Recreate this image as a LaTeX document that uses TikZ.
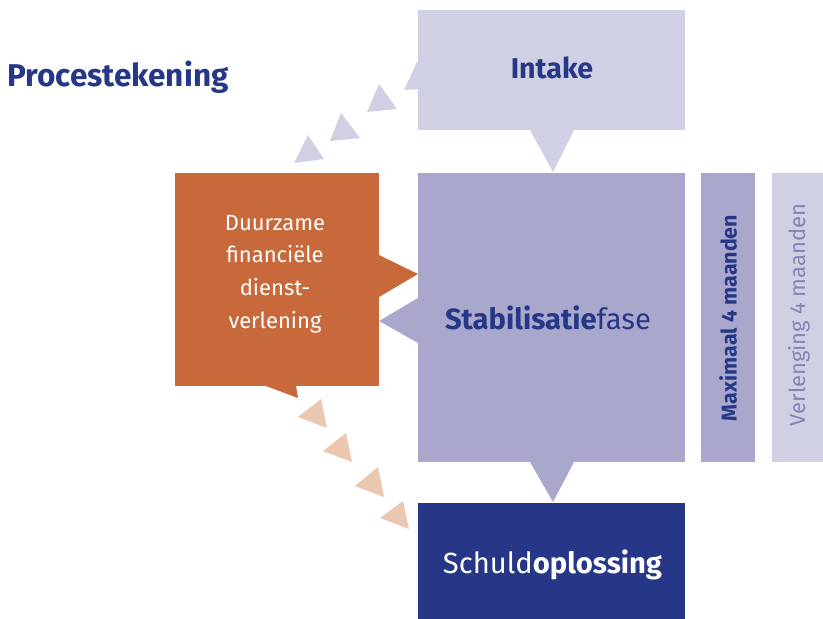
\documentclass[tikz,border=0pt]{standalone}
\usepackage{fontspec}
\setmainfont{Fira Sans}
\usetikzlibrary{calc}
\definecolor{lightlav}{RGB}{207,208,228}
\definecolor{midlav}{RGB}{169,168,204}
\definecolor{navy}{RGB}{37,55,134}
\definecolor{rust}{RGB}{200,105,59}
\definecolor{peach}{RGB}{235,199,175}
\definecolor{greytext}{RGB}{131,133,181}
\tikzset{
  box/.style={rectangle, inner sep=0pt, draw=none},
  lbl/.style={inner sep=0pt, anchor=center},
}
\begin{document}
\begin{tikzpicture}[x=1pt,y=-1pt]
\useasboundingbox (0,0) rectangle (823,619);
% boxes
\node[box, fill=lightlav, minimum width=267pt, minimum height=120pt] (intake) at (551.5,70) {};
\node[box, fill=midlav, minimum width=267pt, minimum height=289pt] (stab) at (551.5,317.5) {};
\node[box, fill=navy, minimum width=267pt, minimum height=116pt] (schuld) at (551.5,561) {};
\node[box, fill=midlav, minimum width=54pt, minimum height=289pt] (max) at (728,317.5) {};
\node[box, fill=lightlav, minimum width=51pt, minimum height=289pt] (verl) at (797.5,317.5) {};
\node[box, fill=rust, minimum width=204pt, minimum height=213pt] (duur) at (277,279.5) {};
% pointers
\fill[lightlav] (530,130) -- (574,130) -- (553,172) -- cycle;
\fill[midlav] (530,462) -- (574,462) -- (553,502) -- cycle;
\fill[rust] (379,255) -- (418,274) -- (379,297) -- cycle;
\fill[midlav] (418,298) -- (379,321) -- (418,343) -- cycle;
\fill[rust] (266,386) -- (296,386) -- (298,398) -- cycle;
% top triangles
\fill[lightlav] (308,135) -- (324,159) -- (294,163) -- cycle;
\fill[lightlav] (341,113) -- (360,138) -- (330,141) -- cycle;
\fill[lightlav] (379,84) -- (397,109) -- (367,112) -- cycle;
\fill[lightlav] (417,62) -- (420,62) -- (420,89) -- (404,90) -- cycle;
% bottom triangles
\fill[peach] (298,417) -- (321,399) -- (327,428) -- cycle;
\fill[peach] (323,451) -- (346,433) -- (352,462) -- cycle;
\fill[peach] (355,486) -- (378,467) -- (384,497) -- cycle;
\fill[peach] (380,518) -- (403,501) -- (409,529) -- cycle;
% texts
\node[lbl, anchor=west, text=navy, font=\fontsize{31.5}{36}\selectfont\bfseries] (title) at (7,77) {Procestekening};
\node[lbl, text=navy, font=\fontsize{28.6}{32}\selectfont\bfseries] (tintake) at (552,68) {Intake};
\node[lbl, text=navy, font=\fontsize{29.2}{32}\selectfont] (tstab) at (548,318) {\textbf{Stabilisatie}fase};
\node[lbl, text=white, font=\fontsize{29.2}{32}\selectfont] (tschuld) at (552.5,565) {Schuld\textbf{oplossing}};
\node[lbl, text=white, align=center, font=\fontsize{22}{32.7}\selectfont] (tduur) at (275,274) {Duurzame\\financiële\\dienst-\\verlening};
\node[lbl, text=navy, rotate=90, font=\fontsize{21.4}{24}\selectfont\bfseries] (tmax) at (728,318) {Maximaal 4 maanden};
\node[lbl, text=greytext, rotate=90, font=\fontsize{22}{24}\selectfont] (tverl) at (799,315) {Verlenging 4 maanden};
\end{tikzpicture}
\end{document}
